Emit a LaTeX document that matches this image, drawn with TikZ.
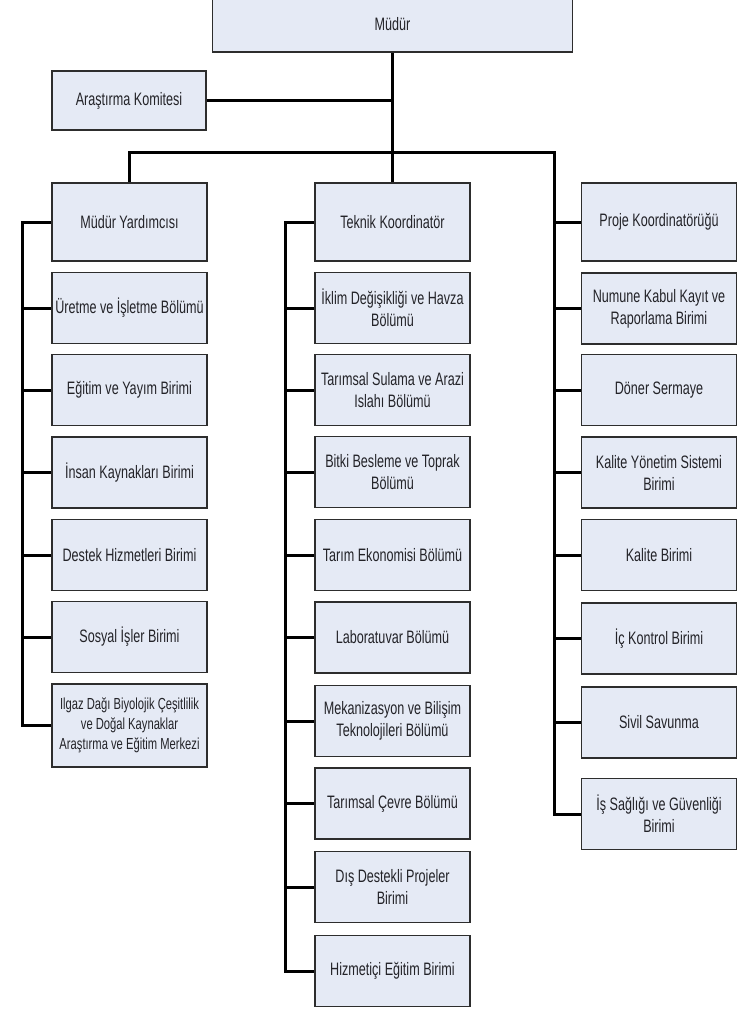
\documentclass[tikz,border=0pt]{standalone}
\usepackage{fontspec}
\setmainfont{Liberation Sans}[FakeStretch=0.7]
\definecolor{boxfill}{RGB}{229,234,245}
\definecolor{boxline}{RGB}{45,45,45}
\definecolor{txt}{RGB}{35,35,40}
\tikzset{
  unit/.style={rectangle, draw=boxline, fill=boxfill, line width=1.8pt,
    minimum width=155pt, minimum height=71pt, inner sep=1pt, align=center,
    text=txt, font=\fontsize{18}{22}\selectfont},
  conn/.style={line width=3pt, black, line join=miter}
}
\begin{document}
\begin{tikzpicture}[x=1pt,y=-1pt]
\useasboundingbox (0,0) rectangle (747,1009);
\clip (0,0) rectangle (747,1009);
% top
\node[unit, minimum width=360pt, minimum height=56pt] (mudur) at (392.5,24) {Müdür};
\node[unit, minimum width=154pt, minimum height=59pt] (komite) at (129,100.5) {Araştırma Komitesi};
% level 1
\node[unit, minimum height=78pt] (myard) at (129.5,222) {Müdür Yardımcısı};
\node[unit, minimum height=78pt] (tek) at (392.5,222) {Teknik Koordinatör};
\node[unit, minimum height=78pt] (proje) at (659,222) {Proje Koordinatörüğü};
% left column
\node[unit] (l1) at (129.5,308) {Üretme ve İşletme Bölümü};
\node[unit] (l2) at (129.5,390) {Eğitim ve Yayım Birimi};
\node[unit] (l3) at (129.5,472.5) {İnsan Kaynakları Birimi};
\node[unit] (l4) at (129.5,555) {Destek Hizmetleri Birimi};
\node[unit] (l5) at (129.5,637) {Sosyal İşler Birimi};
\node[unit, minimum height=83pt, font=\fontsize{16}{20}\selectfont] (l6) at (129.5,725.5) {Ilgaz Dağı Biyolojik Çeşitlilik\\ve Doğal Kaynaklar\\Araştırma ve Eğitim Merkezi};
% middle column
\node[unit] (m1) at (392.5,308) {İklim Değişikliği ve Havza\\Bölümü};
\node[unit] (m2) at (392.5,390) {Tarımsal Sulama ve Arazi\\Islahı Bölümü};
\node[unit] (m3) at (392.5,472) {Bitki Besleme ve Toprak\\Bölümü};
\node[unit] (m4) at (392.5,555) {Tarım Ekonomisi Bölümü};
\node[unit] (m5) at (392.5,637.5) {Laboratuvar Bölümü};
\node[unit] (m6) at (392.5,721) {Mekanizasyon ve Bilişim\\Teknolojileri Bölümü};
\node[unit] (m7) at (392.5,803.5) {Tarımsal Çevre Bölümü};
\node[unit] (m8) at (392.5,887) {Dış Destekli Projeler\\Birimi};
\node[unit] (m9) at (392.5,971) {Hizmetiçi Eğitim Birimi};
% right column
\node[unit] (r1) at (659,308.5) {Numune Kabul Kayıt ve\\Raporlama Birimi};
\node[unit] (r2) at (659,390) {Döner Sermaye};
\node[unit] (r3) at (659,472.5) {Kalite Yönetim Sistemi\\Birimi};
\node[unit] (r4) at (659,555) {Kalite Birimi};
\node[unit] (r5) at (659,638.5) {İç Kontrol Birimi};
\node[unit] (r6) at (659,722.5) {Sivil Savunma};
\node[unit] (r7) at (659,814) {İş Sağlığı ve Güvenliği\\Birimi};
% spine coordinates
\coordinate (spL) at (22,0);
\coordinate (spM) at (285,0);
\coordinate (spR) at (554,152);
% connectors from top
\draw[conn] (mudur.south) -- (tek.north);
\draw[conn] (komite.east) -- (komite.east -| mudur.south);
\draw[conn] (myard.north) |- (spR) -- (spR |- r7.west) -- (r7.west);
% left spine
\draw[conn] (myard.west) -- (myard.west -| spL) -- (l6.west -| spL) -- (l6.west);
\foreach \n in {l1,l2,l3,l4,l5} \draw[conn] (\n.west) -- (\n.west -| spL);
% middle spine
\draw[conn] (tek.west) -- (tek.west -| spM) -- (m9.west -| spM) -- (m9.west);
\foreach \n in {m1,m2,m3,m4,m5,m6,m7,m8} \draw[conn] (\n.west) -- (\n.west -| spM);
% right spine branches
\foreach \n in {proje,r1,r2,r3,r4,r5,r6} \draw[conn] (\n.west) -- (\n.west -| spR);
\end{tikzpicture}
\end{document}
